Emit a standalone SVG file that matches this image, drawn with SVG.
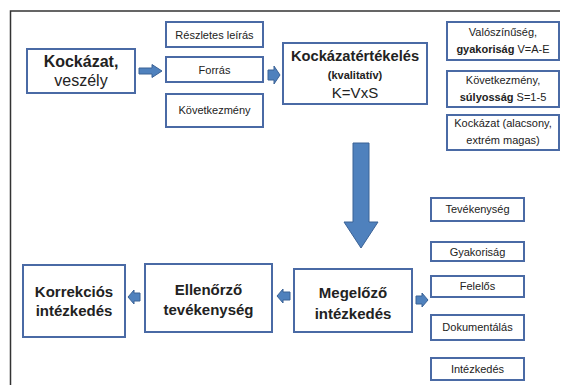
<svg xmlns="http://www.w3.org/2000/svg" width="563" height="385" viewBox="0 0 563 385">
<style>
.box{fill:#fff;stroke:#4a6aa5;stroke-width:2}
.arr{fill:#4f81bd;stroke:#3b6296;stroke-width:1}
text{font-family:"Liberation Sans",Arial,sans-serif;fill:#222;text-anchor:middle}
.b{font-weight:bold}
.s{font-size:11px}
.m{font-size:16px}
.l{font-size:15px;font-weight:bold}
</style>
<rect width="563" height="385" fill="#fff"/>
<path d="M10.5,385 V11 H560" fill="none" stroke="#333" stroke-width="1.5"/>
<g id="connectors">
<path class="arr" d="M139,68 H152 V64.5 L162,71 L152,77.5 V74 H139 Z"/>
<path class="arr" d="M268,70 H274 V66 L280,75 L274,84 V80 H268 Z"/>
<path class="arr" d="M353,143 H369 V222 H378 L361,248 L344,222 H353 Z"/>
<path class="arr" d="M290,292 H283 V289 L277,296 L283,303 V300 H290 Z"/>
<path class="arr" d="M140,293 H134 V290 L128,297 L134,304 V301 H140 Z"/>
<path class="arr" d="M416,296 H422 V293 L428,300 L422,307 V304 H416 Z"/>
</g>
<g id="kockazat"><rect class="box" x="27" y="49" width="108" height="44"/>
<text x="81" y="67" class="m b">Kockázat,</text><text x="81" y="86" class="m">veszély</text></g>
<g id="reszletes"><rect class="box" x="166" y="22" width="97" height="25"/><text x="214.5" y="39" class="s">Részletes leírás</text></g>
<g id="forras"><rect class="box" x="166" y="57" width="97" height="25"/><text x="214.5" y="74" class="s">Forrás</text></g>
<g id="kovetkezmeny"><rect class="box" x="166" y="94" width="97" height="33"/><text x="214.5" y="114" class="s">Következmény</text></g>
<g id="kockazatertekeles"><rect class="box" x="283" y="43" width="144" height="61"/>
<text x="355" y="61" class="b" font-size="14.7px">Kockázatértékelés</text>
<text x="355" y="79" class="b" font-size="11px">(kvalitatív)</text>
<text x="355" y="98" font-size="15px">K=VxS</text></g>
<g id="valoszinuseg"><rect class="box" x="447" y="22" width="112" height="38"/>
<text x="503" y="36" class="s">Valószínűség,</text>
<text x="503" y="53" class="s"><tspan class="b">gyakoriság</tspan> V=A-E</text></g>
<g id="kovetkezmeny2"><rect class="box" x="447" y="71" width="112" height="36"/>
<text x="503" y="84" class="s">Következmény,</text>
<text x="503" y="101" class="s"><tspan class="b">súlyosság</tspan> S=1-5</text></g>
<g id="kockazat2"><rect class="box" x="447" y="115" width="112" height="35"/>
<text x="503" y="127" class="s">Kockázat (alacsony,</text>
<text x="503" y="144" class="s">extrém magas)</text></g>
<g id="megelozo"><rect class="box" x="294" y="269" width="118" height="63"/>
<text x="353" y="298" class="l">Megelőző</text><text x="353" y="319" class="l">intézkedés</text></g>
<g id="ellenorzo"><rect class="box" x="145" y="264" width="127" height="68"/>
<text x="208.5" y="295" class="l">Ellenőrző</text><text x="208.5" y="315" class="l">tevékenység</text></g>
<g id="korrekcios"><rect class="box" x="23" y="265" width="102" height="72"/>
<text x="74" y="297" class="l">Korrekciós</text><text x="74" y="316" class="l">intézkedés</text></g>
<g id="tevekenyseg"><rect class="box" x="431" y="198" width="93" height="23"/><text x="477.5" y="213" class="s">Tevékenység</text></g>
<g id="gyakorisag"><rect class="box" x="431" y="242" width="93" height="19"/><text x="477.5" y="256" class="s">Gyakoriság</text></g>
<g id="felelos"><rect class="box" x="431" y="276" width="93" height="21"/><text x="477.5" y="290" class="s">Felelős</text></g>
<g id="dokumentalas"><rect class="box" x="431" y="315" width="93" height="25"/><text x="477.5" y="331" class="s">Dokumentálás</text></g>
<g id="intezkedes"><rect class="box" x="431" y="358" width="93" height="22"/><text x="477.5" y="373" class="s">Intézkedés</text></g>
</svg>
